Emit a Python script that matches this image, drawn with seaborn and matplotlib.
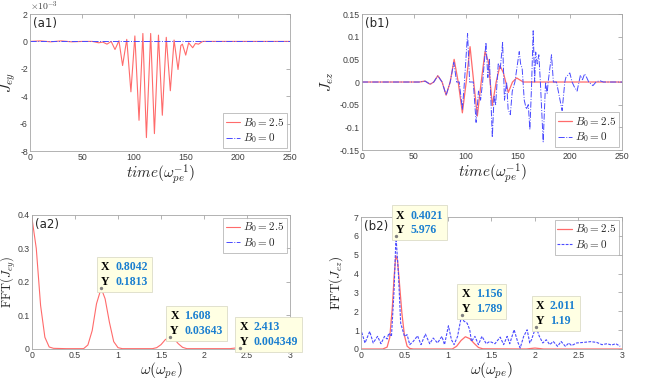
import matplotlib
matplotlib.use('Agg')
import matplotlib.pyplot as plt
import matplotlib.ticker as mticker
from matplotlib.offsetbox import TextArea, HPacker, VPacker, AnnotationBbox
import seaborn as sns


# DANE
# (a1) J_ey w funkcji czasu, wartosci w jednostkach 1e-3
a1_t = [0, 10, 20, 30, 40, 50, 60, 66, 70, 74, 78, 81.7, 85.5, 89, 93, 97, 100.8, 104.8, 108.5,
        111.9, 116, 119.6, 123.5, 127.2, 131, 134.9, 138.5, 142.3, 145, 146.5, 149.7, 152.5,
        156.4, 159, 162, 166, 200, 250]
a1_red = [0, 0.04, -0.03, 0.04, -0.03, 0, 0, -0.1, -0.05, -0.2, 0, -0.59, 0.05, -1.76, 0.15,
          -3.68, 0.4, -5.76, 0.58, -7.02, 0.58, -6.73, 0.46, -5.39, 0.3, -3.6, 0.1, -2.05, -0.3,
          -0.2, -1.0, -0.1, -0.46, -0.15, -0.2, 0, 0, 0]
a1_t_blue = [0, 125, 250]
a1_blue = [0, 0, 0]

# (b1) J_ez w funkcji czasu
b1_t_red = [0, 55, 60.7, 65.5, 69, 72.9, 77, 80.9, 84.8, 88.6, 92.5, 96.5, 100.2, 103.9, 107.4,
            110.9, 114.6, 118.3, 121.5, 125.3, 129, 132.7, 136, 140.7, 144.7, 148.7, 155, 250]
b1_red = [0, 0, 0.002, -0.005, 0.0, 0.014, 0.0, -0.029, 0.0, 0.05, 0.0, -0.068, 0.0, 0.078, 0.0,
          -0.075, 0.0, 0.067, 0.045, -0.052, 0.0, 0.036, 0.02, -0.023, 0.0, 0.009, 0, 0]
b1_t_blue = [0, 55, 60.7, 65.5, 69, 72.9, 77, 80.9, 84.8, 88.3, 91, 93.5, 96.5, 98.5, 101.5,
             103.5, 107, 109.7, 112, 114, 116, 119.2, 121, 122.5, 125.3, 127, 128.5, 131, 133,
             135.2, 137, 139, 140.5, 142.6, 144.5, 147, 151.2, 152.5, 154, 156, 158, 159.9,
             161.4, 163, 164.6, 166, 167, 168.5, 170, 171.5, 174.2, 176.5, 178, 179, 182.2,
             184, 187, 192.4, 195, 196, 199.8, 202, 204, 206.8, 210, 212, 214, 216, 218, 222,
             225, 228.6, 232, 250]
b1_blue = [0, 0, 0.002, -0.005, 0, 0.014, 0, -0.029, 0, 0.043, 0, 0, -0.06, 0, 0.107,
           0, 0, -0.089, -0.02, -0.04, 0, 0.087, 0.01, 0.05, -0.122, -0.03, -0.05, 0.04, 0.03,
           0.087, -0.04, 0, -0.06, -0.072, -0.02, 0, 0.067, 0.04, 0.03, -0.04, -0.06, -0.05,
           -0.105, -0.01, 0.113, 0, 0.066, 0.04, 0.06, 0, -0.132, 0, -0.025, 0, 0.06,
           0, 0, -0.063, 0, 0.01, 0.02, 0, -0.01, -0.02, 0.015, 0.005, 0.018, 0.01, 0, -0.008,
           0, 0.003, 0, 0]

# (a2) FFT(J_ey)
a2_w_red = [0, 0.05, 0.1, 0.15, 0.2, 0.25, 0.4, 0.6, 0.65, 0.7, 0.75, 0.8042, 0.85, 0.9, 0.95,
            1.0, 1.05, 1.4, 1.45, 1.5, 1.55, 1.608, 1.65, 1.7, 1.75, 1.8, 2.3, 2.413, 2.5, 2.6,
            2.7, 3.0]
a2_red = [0.39, 0.30, 0.13, 0.035, 0.006, 0.002, 0.001, 0.001, 0.012, 0.055, 0.135, 0.1813,
          0.15, 0.08, 0.022, 0.004, 0.001, 0.001, 0.004, 0.013, 0.028, 0.03643, 0.031, 0.016,
          0.005, 0.001, 0.001, 0.004349, 0.004, 0.003, 0.001, 0.0]
a2_w_blue = [0, 1.5, 3.0]
a2_blue = [0, 0, 0]
a2_tip_x = [0.8042, 1.608, 2.413]
a2_tip_y = [0.1813, 0.03643, 0.004349]

# (b2) FFT(J_ez)
b2_w_red = [0, 0.25, 0.3, 0.33, 0.36, 0.38, 0.4, 0.42, 0.44, 0.47, 0.5, 0.53, 0.56, 0.6, 1.05,
            1.1, 1.15, 1.2, 1.25, 1.3, 1.35, 1.4, 1.9, 2.0, 2.1, 3.0]
b2_red = [0, 0, 0.1, 0.6, 2.2, 3.8, 4.95, 4.7, 3.6, 1.9, 0.7, 0.15, 0.03, 0, 0, 0.15, 0.45,
          0.65, 0.55, 0.3, 0.08, 0.01, 0.0, 0.05, 0.0, 0]
b2_w_blue = [0.008, 0.046, 0.10, 0.14, 0.19, 0.23, 0.27, 0.30, 0.32, 0.35, 0.38, 0.4021, 0.43,
             0.456, 0.50, 0.53, 0.56, 0.60, 0.65, 0.69, 0.74, 0.79, 0.83, 0.88, 0.93, 0.96,
             1.005, 1.04, 1.07, 1.11, 1.156, 1.18, 1.22, 1.25, 1.27, 1.31, 1.35, 1.39, 1.44,
             1.48, 1.54, 1.60, 1.64, 1.68, 1.71, 1.76, 1.80, 1.83, 1.87, 1.91, 1.94, 1.96,
             2.011, 2.05, 2.09, 2.13, 2.17, 2.21, 2.26, 2.30, 2.35, 2.39, 2.42, 2.48, 2.56,
             2.64, 2.71, 2.77, 2.83, 2.88, 2.93, 2.98]
b2_blue = [0.88, 0.32, 0.93, 0.32, 0.67, 0.28, 0.67, 0.53, 0.84, 0.67, 3.1, 5.976, 4.0, 1.37,
           0.67, 0.76, 0.23, 0.40, 0.70, 0.23, 0.79, 0.28, 0.58, 0.32, 0.67, 0.23, 1.23, 0.49,
           0.23, 0.67, 1.789, 1.49, 1.37, 1.02, 0.40, 0.67, 0.23, 0.67, 0.28, 0.40, 0.28, 0.63,
           0.23, 0.67, 0.28, 1.02, 0.40, 0.05, 0.67, 1.02, 0.32, 0.49, 1.19, 0.67, 0.32, 0.49,
           0.23, 0.40, 0.14, 0.40, 0.14, 0.32, 0.18, 0.32, 0.35, 0.39, 0.35, 0.23, 0.28, 0.21,
           0.28, 0.14]
b2_tip_x = [0.4021, 1.156, 2.011]
b2_tip_y = [5.976, 1.789, 1.19]

RED = '#ff6b6b'
BLUE = '#4a4aff'
TIP_BLUE = '#1a7fd0'
EDGE = '#a6a6a6'
TICK_COL = '#404040'

sns.set_style('white')
plt.rcParams['font.family'] = ['DejaVu Sans']
plt.rcParams['mathtext.fontset'] = 'cm'
plt.rcParams['axes.edgecolor'] = EDGE
plt.rcParams['axes.linewidth'] = 0.6
plt.rcParams['xtick.direction'] = 'in'
plt.rcParams['ytick.direction'] = 'in'
plt.rcParams['xtick.color'] = EDGE
plt.rcParams['ytick.color'] = EDGE
plt.rcParams['xtick.labelcolor'] = TICK_COL
plt.rcParams['ytick.labelcolor'] = TICK_COL
plt.rcParams['xtick.labelsize'] = 6.3
plt.rcParams['ytick.labelsize'] = 6.3


def fmt_plain(v, pos):
    return ('%g' % v).replace('\u2212', '-')


def style_axes(ax, xlim, ylim, xticks, yticks, tag):
    ax.set_xlim(*xlim)
    ax.set_ylim(*ylim)
    ax.set_xticks(xticks)
    ax.set_yticks(yticks)
    ax.xaxis.set_major_formatter(mticker.FuncFormatter(fmt_plain))
    ax.yaxis.set_major_formatter(mticker.FuncFormatter(fmt_plain))
    ax.tick_params(top=True, right=True, length=3, width=0.6, pad=1.5)
    for lab in ax.get_xticklabels() + ax.get_yticklabels():
        lab.set_family('Liberation Sans')
    for s in ax.spines.values():
        s.set_visible(True)
    ax.text(0.012, 0.975, tag, transform=ax.transAxes, ha='left', va='top', fontsize=8.5)


def add_legend(ax, loc):
    leg = ax.legend(loc=loc, fontsize=8, frameon=True, fancybox=False, handlelength=1.3,
                    handletextpad=0.3, borderpad=0.25, labelspacing=0.15, borderaxespad=0.25)
    leg.get_frame().set_edgecolor(EDGE)
    leg.get_frame().set_linewidth(0.6)


def datatip(ax, x, y):
    fp = dict(family='Liberation Serif', weight='bold', size=8.5)
    rows = []
    for name, val in [('X', x), ('Y', y)]:
        rows.append(HPacker(children=[TextArea(name, textprops=dict(color='black', **fp)),
                                      TextArea('%.4g' % val, textprops=dict(color=TIP_BLUE, **fp))],
                            sep=4, pad=0, align='baseline'))
    box = VPacker(children=rows, sep=2, pad=0, align='left')
    ab = AnnotationBbox(box, (x, y), box_alignment=(0, 0), frameon=True, pad=0.3,
                        bboxprops=dict(facecolor='#ffffe3', edgecolor='#dcdcc8', lw=0.6,
                                       boxstyle='square,pad=0.3'),
                        annotation_clip=False)
    ab.set_clip_on(False)
    ax.add_artist(ab)


def place_ylabel(ax, x):
    # prawa krawedz etykiety w punkcie x (wspolrzedne osi)
    ax.yaxis.set_label_coords(x, 0.5)


fig = plt.figure(figsize=(6.54, 3.82), dpi=100)
ax_a1 = fig.add_axes([0.0459, 0.6047, 0.3976, 0.3586])
ax_b1 = fig.add_axes([0.5535, 0.6073, 0.3976, 0.3560])
ax_a2 = fig.add_axes([0.0489, 0.0864, 0.3946, 0.3508])
ax_b2 = fig.add_axes([0.5520, 0.0864, 0.3990, 0.3455])

lab_red = r'$B_0 = 2.5$'
lab_blue = r'$B_0 = 0$'

# (a1)
sns.lineplot(x=a1_t, y=[v * 1e-3 for v in a1_red], ax=ax_a1, color=RED, lw=0.8,
             estimator=None, label=lab_red)
sns.lineplot(x=a1_t_blue, y=a1_blue, ax=ax_a1, color=BLUE, lw=0.7, linestyle='-.',
             estimator=None, label=lab_blue)
style_axes(ax_a1, (0, 250), (-8e-3, 2e-3), range(0, 251, 50),
           [-8e-3, -6e-3, -4e-3, -2e-3, 0, 2e-3], '(a1)')
ax_a1.yaxis.set_major_formatter(mticker.FuncFormatter(lambda v, p: fmt_plain(round(v * 1e3, 6), p)))
ax_a1.text(0.0, 1.005, r'$\times 10^{-3}$', transform=ax_a1.transAxes, ha='left', va='bottom',
           fontsize=7, color=TICK_COL)
ax_a1.set_xlabel(r'$time(\omega_{pe}^{-1})$', fontsize=11, labelpad=0)
ax_a1.set_ylabel(r'$J_{ey}$', fontsize=11)
place_ylabel(ax_a1, -0.045)
add_legend(ax_a1, 'lower right')

# (b1)
sns.lineplot(x=b1_t_red, y=b1_red, ax=ax_b1, color=RED, lw=0.9, estimator=None, label=lab_red)
sns.lineplot(x=b1_t_blue, y=b1_blue, ax=ax_b1, color=BLUE, lw=0.7, linestyle='-.',
             estimator=None, label=lab_blue)
style_axes(ax_b1, (0, 250), (-0.15, 0.15), range(0, 251, 50),
           [-0.15, -0.1, -0.05, 0, 0.05, 0.1, 0.15], '(b1)')
ax_b1.set_xlabel(r'$time(\omega_{pe}^{-1})$', fontsize=11, labelpad=0)
ax_b1.set_ylabel(r'$J_{ez}$', fontsize=11)
place_ylabel(ax_b1, -0.1)
add_legend(ax_b1, 'lower right')

# (a2)
sns.lineplot(x=a2_w_red, y=a2_red, ax=ax_a2, color=RED, lw=0.8, estimator=None, label=lab_red)
sns.lineplot(x=a2_w_blue, y=a2_blue, ax=ax_a2, color=BLUE, lw=0.7, linestyle='-.',
             estimator=None, label=lab_blue)
style_axes(ax_a2, (0, 3), (0, 0.4), [0, 0.5, 1, 1.5, 2, 2.5, 3], [0, 0.1, 0.2, 0.3, 0.4], '(a2)')
ax_a2.set_xlabel(r'$\omega(\omega_{pe})$', fontsize=11, labelpad=0)
ax_a2.set_ylabel(r'$\mathrm{FFT}(J_{ey})$', fontsize=9)
place_ylabel(ax_a2, -0.055)
add_legend(ax_a2, 'upper right')
ax_a2.scatter(a2_tip_x, a2_tip_y, s=2, color='#808080', zorder=5, clip_on=False)
for x, y in zip(a2_tip_x, a2_tip_y):
    datatip(ax_a2, x, y)

# (b2)
sns.lineplot(x=b2_w_red, y=b2_red, ax=ax_b2, color=RED, lw=0.9, estimator=None, label=lab_red)
sns.lineplot(x=b2_w_blue, y=b2_blue, ax=ax_b2, color=BLUE, lw=0.8, linestyle=(0, (2.5, 1.2)),
             estimator=None, label=lab_blue)
style_axes(ax_b2, (0, 3), (0, 7), [0, 0.5, 1, 1.5, 2, 2.5, 3], range(0, 8), '(b2)')
ax_b2.set_xlabel(r'$\omega(\omega_{pe})$', fontsize=11, labelpad=0)
ax_b2.set_ylabel(r'$\mathrm{FFT}(J_{ez})$', fontsize=9.5)
place_ylabel(ax_b2, -0.06)
add_legend(ax_b2, 'upper right')
ax_b2.scatter(b2_tip_x, b2_tip_y, s=2, color='#808080', zorder=5, clip_on=False)
for x, y in zip(b2_tip_x, b2_tip_y):
    datatip(ax_b2, x, y)

fig.savefig('out.png', dpi=100)
plt.close(fig)
